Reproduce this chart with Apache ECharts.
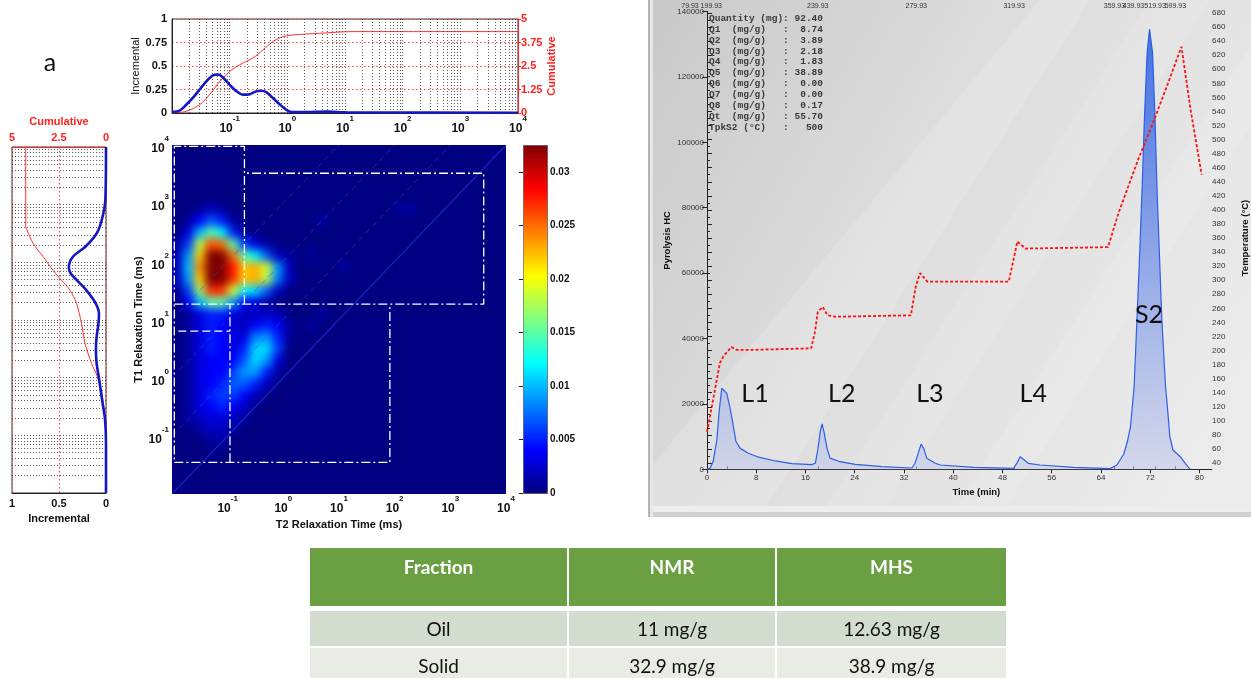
<!DOCTYPE html>
<html>
<head>
<meta charset="utf-8">
<script src="https://cdn.jsdelivr.net/npm/echarts@6/dist/echarts.min.js"></script>
<style>
  html, body { margin: 0; padding: 0; background: #ffffff; }
  #wrap { position: relative; width: 1251px; height: 678px; overflow: hidden; }
  #mapClip { position: absolute; left: 172px; top: 145px; width: 334px; height: 349px; overflow: hidden; background: #000080; }
  #mapField { position: absolute; left: -20px; top: -20px; width: 374px; height: 389px; filter: blur(4px); }
  #main { position: absolute; left: 0; top: 0; width: 1251px; height: 678px; }
</style>
</head>
<body>
<div id="wrap">
  <div id="mapClip"><div id="mapField"></div></div>
  <div id="main"></div>
</div>
<script>
// ---------- NMR: T2 projection (incremental / cumulative) ----------
const t2IncT2 = [0.01, 0.0135, 0.0178, 0.0229, 0.0302, 0.0398, 0.0513, 0.063, 0.0759, 0.1, 0.132, 0.17, 0.224, 0.288, 0.355, 0.437, 0.562, 0.741, 0.955, 1.17, 2.14, 4.79, 10.5, 10000];
const t2Incremental = [0.01, 0.025, 0.09, 0.16, 0.25, 0.34, 0.40, 0.41, 0.38, 0.30, 0.23, 0.195, 0.20, 0.23, 0.237, 0.22, 0.16, 0.09, 0.035, 0.01, 0.01, 0.015, 0.007, 0.003];
const t2CumT2 = [0.01, 0.0178, 0.0302, 0.0447, 0.0676, 0.1, 0.148, 0.251, 0.38, 0.562, 0.832, 1.26, 3.63, 13.8, 52.5, 10000];
const t2Cumulative = [0, 0.09, 0.44, 0.97, 1.68, 2.21, 2.56, 2.92, 3.36, 3.80, 4.06, 4.15, 4.24, 4.33, 4.33, 4.33];

// ---------- NMR: T1 projection ----------
const t1IncT1 = [10000, 1200, 537, 316, 186, 126, 83, 64.6, 49, 33, 19.5, 12.9, 8.7, 5.1, 3.0, 1.78, 1.05, 0.62, 0.36, 0.186, 0.072, 0.01];
const t1Incremental = [0, 0.007, 0.046, 0.10, 0.22, 0.35, 0.395, 0.377, 0.31, 0.21, 0.11, 0.075, 0.08, 0.10, 0.107, 0.10, 0.078, 0.057, 0.036, 0.01, 0, 0];
const t1CumT1 = [10000, 417, 363, 214, 126, 72, 49, 33, 19.5, 8.7, 4.0, 1.78, 1.05, 0.54, 0.214, 0.072, 0.01];
const t1Cumulative = [4.27, 4.27, 4.2, 3.88, 3.35, 2.81, 2.37, 1.92, 1.57, 1.30, 1.12, 0.77, 0.46, 0.23, 0.07, 0, 0];

// ---------- NMR: T1-T2 map, 0.2-decade cells, amplitude in units of 0.001 ----------
const mapCells = 30;            // cells per axis, 10^-2 .. 10^4 ms
const mapRowStart = 4;          // first listed row (T1 ~ 10^-1.2 ms)
const mapRows = [
  [0,0,0,1,1],
  [0,0,1,2,2,1],
  [0,1,2,3,3,2,1],
  [0,1,3,4,5,4,2],
  [0,1,3,5,6,6,4,2],
  [0,1,3,4,5,7,7,5,2],
  [0,1,3,4,4,6,9,9,5,1],
  [0,1,3,4,4,4,7,11,9,3],
  [0,1,3,5,4,3,5,11,11,6],
  [0,1,3,5,4,3,3,8,9,5,1],
  [0,1,3,5,4,3,2,4,5,4,1,0,1],
  [0,1,3,5,5,3,2,2,2,2,0,0,0,1],
  [0,4,10,15,15,9,4,3,1],
  [1,6,17,27,27,19,12,11,7,2],
  [2,9,22,33,33,27,22,23,18,8,2],
  [2,10,24,33,33,28,22,23,19,9,2,0,0,0,0,1],
  [2,9,22,33,33,25,15,12,7,2,1,0,1],
  [1,6,18,26,25,15,6,3,1],
  [0,3,10,15,12,5,1],
  [0,1,4,7,5,1,0,0,0,0,0,0,0,1],
  [0,0,1,2,1,0,0,0,0,0,0,0,0,0,0,0,0,0,0,0,1,1]
];
const mapMax = 0.0325;
const jet = ['#000080', '#0000ff', '#0080ff', '#00ffff', '#80ff80', '#ffff00', '#ff8000', '#ff0000', '#800000'];

// Cut-off regions drawn on the map, [T2 ms, T1 ms]
const regionOutlineA = [[0.2, 18.4], [0.2, 9500], [0.011, 9500], [0.011, 0.035], [82, 0.035], [82, 18.4]];
const regionOutlineB = [[0.011, 18.4], [3980, 18.4], [3980, 3270], [0.2, 3270]];
const regionOutlineC = [[0.11, 0.035], [0.11, 18.4]];
const regionOutlineD = [[0.013, 6.3], [0.11, 6.3]];
const regionNames = ['1', '2', '3', '4', '5'];
const regionLabelT2 = [48, 2240, 0.115, 0.062, 0.062];
const regionLabelT1 = [0.049, 4370, 24.3, 8.3, 0.049];
const t1t2Ratios = [1, 10, 100, 1000];

// ---------- Pyrolysis (MHS) ----------
const fidTime = [0, 0.5, 1.0, 1.6, 2.0, 2.4, 2.7, 3.2, 3.7, 4.3, 4.7, 5.4, 6.7, 8.4, 11.1, 13.8, 17.0, 17.6, 18.0, 18.4, 18.7, 19.0, 19.5, 20.0, 21.4, 24.1, 28.4, 33.3, 33.8, 34.4, 34.8, 35.2, 35.7, 37.1, 37.9, 43.3, 49.8, 50.4, 50.9, 51.4, 52.2, 54.1, 59.6, 65.5, 66.6, 67.7, 68.3, 68.8, 69.4, 69.85, 70.3, 70.7, 71.06, 71.5, 71.9, 72.4, 72.8, 73.1, 73.5, 73.9, 74.5, 74.75, 75.2, 75.7, 76.9, 77.7, 78.5];
const fidSignal = [0, 300, 2350, 9000, 18200, 24800, 25100, 23300, 19200, 13000, 8500, 6400, 4900, 3700, 2550, 1750, 1430, 1840, 5900, 11500, 13900, 11500, 6400, 3400, 2450, 1530, 800, 400, 1840, 5400, 7750, 6400, 3400, 1840, 1320, 610, 300, 2040, 3870, 3060, 1830, 1320, 610, 200, 1320, 4600, 8500, 13000, 25260, 45650, 66050, 86400, 106800, 127200, 134600, 127200, 106800, 86400, 66050, 45650, 25260, 20180, 9970, 5900, 3850, 1830, 0];
const tempTime = [0, 1.3, 2.1, 2.7, 3.5, 4.0, 4.8, 8, 12, 17.0, 17.6, 18.1, 18.9, 19.7, 21, 33.3, 34.1, 34.8, 36.0, 49.3, 50.7, 52.0, 65.5, 67.2, 70.4, 72.6, 75.3, 77.5, 79.0, 80.8];
const tempValue = [84, 144, 182, 192, 200, 205, 201, 201, 202, 203, 225, 255, 262, 250, 248, 250, 291, 310, 298, 298, 355, 345, 347, 395, 471, 518, 580, 632, 542, 450];
const stepTimes = [0, 3.3, 18.0, 34.0, 49.9, 66.2, 69.3, 72.8, 76.1];
const stepLabels = ['79.93', '199.93', '239.93', '279.93', '319.93', '359.93', '439.93', '519.93', '599.93'];
const peakNames = ['L1', 'L2', 'L3', 'L4', 'S2'];
const peakLabelTime = [7.8, 21.9, 36.2, 53.0, 71.8];
const peakLabelHC = [23000, 23000, 23000, 23000, 47200];
const summaryKeys = ['Quantity (mg)', 'Q1  (mg/g)', 'Q2  (mg/g)', 'Q3  (mg/g)', 'Q4  (mg/g)', 'Q5  (mg/g)', 'Q6  (mg/g)', 'Q7  (mg/g)', 'Q8  (mg/g)', 'Qt  (mg/g)', 'TpkS2 (\u00b0C)'];
const summaryValues = ['92.40', '8.74', '3.89', '2.18', '1.83', '38.89', '0.00', '0.00', '0.17', '55.70', '500'];

// ---------- Comparison table ----------
const tableHeader = ['Fraction', 'NMR', 'MHS'];
const tableRows = [['Oil', '11 mg/g', '12.63 mg/g'], ['Solid', '32.9 mg/g', '38.9 mg/g']];

const zip = (a, b) => a.map((v, i) => [v, b[i]]);
const swapZip = (vals, keys) => keys.map((k, i) => [vals[i], k]);

// ================= T1-T2 map field (separate softened layer) =================
const cells = [];
mapRows.forEach((row, r) => row.forEach((v, c) => { if (v > 0) cells.push([c, r + mapRowStart, v * 0.001]); }));
const idx = Array.from({ length: mapCells }, (_, i) => i);
const field = echarts.init(document.getElementById('mapField'), null, { renderer: 'canvas' });
field.setOption({
  animation: false,
  backgroundColor: '#000080',
  grid: { left: 20, top: 20, width: 334, height: 349 },
  xAxis: { type: 'category', data: idx, show: false },
  yAxis: { type: 'category', data: idx, show: false },
  visualMap: { show: false, type: 'continuous', min: 0, max: mapMax, inRange: { color: jet } },
  series: [{ type: 'heatmap', data: cells, itemStyle: { borderWidth: 0 }, emphasis: { disabled: true } }]
});

// ================= Main figure =================
const FONT = '"Liberation Sans", Arial, sans-serif';
const powRich = {
  b: { fontSize: 12, fontWeight: 'bold', color: '#111', lineHeight: 20, verticalAlign: 'bottom', fontFamily: FONT },
  s: { fontSize: 8, fontWeight: 'bold', color: '#111', verticalAlign: 'top', fontFamily: FONT }
};
const powLabel = (v) => {
  const e = Math.round(Math.log10(v));
  return e === -2 ? '' : '{b|10}{s|' + e + '}';
};
const minorGrid = [];
for (let d = -2; d <= 3; d++) for (let k = 1; k <= 9; k++) {
  const v = +(k * Math.pow(10, d)).toPrecision(3);
  if (v > 0.01) minorGrid.push(v);
}
const dotted = { color: '#333', type: [1, 2], width: 0.8 };
const redDotted = { color: '#ff4040', type: [1.5, 2.5], width: 1 };
const boxLine = { color: '#ffffff', width: 1.3, type: [9, 3, 2, 3] };

const regionSeries = [regionOutlineA, regionOutlineB, regionOutlineC].map(pts => ({
  type: 'line', xAxisIndex: 3, yAxisIndex: 3, data: pts, symbol: 'none', silent: true, z: 6,
  lineStyle: boxLine
}));
regionSeries.push({
  type: 'line', xAxisIndex: 3, yAxisIndex: 3, data: regionOutlineD, symbol: 'none', silent: true, z: 6,
  lineStyle: { color: '#ffffff', width: 1.3, type: [8, 4] }
});
const ratioSeries = t1t2Ratios.map(r => ({
  type: 'line', xAxisIndex: 3, yAxisIndex: 3, symbol: 'none', silent: true, z: 5,
  data: [[0.01, 0.01 * r], [10000 / r, 10000]],
  lineStyle: { color: '#2a48ff', width: r === 1 ? 1.2 : 1, opacity: 0.5, type: r === 1 ? 'solid' : [6, 4] }
}));

const summaryText = summaryKeys.map((k, i) => k.padEnd(13) + ':' + summaryValues[i].padStart(6)).join('\n');

// table graphics
const colX = [310, 569, 777], colW = [257, 206, 229];
const tableGraphics = [];
tableHeader.forEach((h, c) => {
  tableGraphics.push({ type: 'rect', shape: { x: colX[c], y: 548, width: colW[c], height: 58 }, style: { fill: '#6a9f42' }, silent: true });
  tableGraphics.push({ type: 'text', x: colX[c] + colW[c] / 2, y: 568, style: { text: h, fill: '#ffffff', font: 'bold 19px Lato, "Open Sans", sans-serif', textAlign: 'center', textVerticalAlign: 'middle' }, silent: true });
});
const rowY = [611, 648], rowH = [35, 32], rowFill = ['#d3ddcf', '#e9ebe5'];
tableRows.forEach((row, r) => row.forEach((txt, c) => {
  tableGraphics.push({ type: 'rect', shape: { x: colX[c], y: rowY[r], width: colW[c], height: rowH[r] }, style: { fill: rowFill[r] }, silent: true });
  tableGraphics.push({ type: 'text', x: colX[c] + colW[c] / 2, y: rowY[r] + 19, style: { text: txt, fill: '#111', font: '19px Lato, "Open Sans", sans-serif', textAlign: 'center', textVerticalAlign: 'middle' }, silent: true });
}));

// pyrolysis panel backdrop
const panelGraphics = [
  { type: 'rect', shape: { x: 648, y: 0, width: 603, height: 517 }, z: -10, silent: true,
    style: { fill: new echarts.graphic.LinearGradient(0, 0, 1, 0.7, [
      { offset: 0, color: '#c8c8c8' }, { offset: 0.45, color: '#dddddd' }, { offset: 1, color: '#ebebeb' }]) } },
  { type: 'polygon', shape: { points: [[648, 470], [648, 517], [760, 517], [1090, 0], [1040, 0]] }, z: -9, silent: true, style: { fill: 'rgba(255,255,255,0.16)' } },
  { type: 'polygon', shape: { points: [[820, 517], [880, 517], [1210, 0], [1150, 0]] }, z: -9, silent: true, style: { fill: 'rgba(255,255,255,0.12)' } },
  { type: 'polygon', shape: { points: [[950, 517], [1000, 517], [1251, 125], [1251, 45]] }, z: -9, silent: true, style: { fill: 'rgba(255,255,255,0.12)' } },
  { type: 'rect', shape: { x: 648, y: 506, width: 603, height: 6 }, z: -8, silent: true, style: { fill: '#ededed' } },
  { type: 'rect', shape: { x: 648, y: 512, width: 603, height: 5 }, z: -8, silent: true, style: { fill: '#d2d2d2' } },
  { type: 'rect', shape: { x: 648, y: 0, width: 2, height: 517 }, z: -8, silent: true, style: { fill: '#b4b4b4' } },
  { type: 'rect', shape: { x: 650, y: 0, width: 3, height: 517 }, z: -8, silent: true, style: { fill: '#e6e6e6' } },
  { type: 'text', x: 709, y: 13, silent: true,
    style: { text: summaryText, font: 'bold 9.5px "Liberation Mono", "DejaVu Sans Mono", monospace', fill: '#3a3a3a', lineHeight: 10.9 } }
];

// oven-step temperatures along the top edge, split over two label rows so none is dropped
const stepLabelFormatter = (v) => {
  const i = stepTimes.indexOf(v);
  if (i < 0) return '';
  return i === 0 ? '{p|' + stepLabels[i] + '}' : (i === 1 ? '{q|' + stepLabels[i] + '}' : stepLabels[i]);
};
const stepRich = { p: { fontSize: 7, color: '#333', padding: [0, 34, 0, 0] }, q: { fontSize: 7, color: '#333', padding: [0, 32, 0, 0] } };
const stepEven = stepTimes.filter((_, i) => i % 2 === 0);
const stepOdd = stepTimes.filter((_, i) => i % 2 === 1);

const main = echarts.init(document.getElementById('main'), null, { renderer: 'canvas' });
main.setOption({
  animation: false,
  backgroundColor: 'transparent',
  textStyle: { fontFamily: FONT },
  graphic: [
    { type: 'text', x: 50, y: 63, silent: true, style: { text: 'a', font: '25px Lato, "Open Sans", sans-serif', fill: '#111', textAlign: 'center', textVerticalAlign: 'middle' } },
    ...panelGraphics,
    ...tableGraphics
  ],
  visualMap: {
    type: 'continuous', seriesIndex: [], min: 0, max: mapMax, inRange: { color: jet },
    left: 523, top: 145, itemWidth: 24, itemHeight: 348, padding: 0, calculable: false,
    borderColor: '#555', borderWidth: 1, hoverLink: false, text: null
  },
  grid: [
    { left: 172, top: 19, width: 346, height: 94, show: true, borderColor: '#333', borderWidth: 1 },
    { left: 12, top: 147, width: 94, height: 346, show: true, borderColor: '#333', borderWidth: 1 },
    { left: 172, top: 145, width: 334, height: 349 },
    { left: 523, top: 145, width: 24, height: 348 },
    { left: 707, top: 11.5, width: 504.7, height: 457.8 },
    { left: 707, top: 13, width: 504.7, height: 450 }
  ],
  xAxis: [
    { gridIndex: 0, type: 'log', logBase: 10, min: 0.01, max: 10000,
      axisLine: { show: true, lineStyle: { color: '#222' } }, axisTick: { show: false }, splitLine: { show: false },
      axisLabel: { formatter: powLabel, rich: powRich, margin: 2 } },
    { gridIndex: 1, type: 'value', min: 0, max: 1, interval: 0.5, inverse: true, position: 'bottom',
      axisLine: { lineStyle: { color: '#222' } }, axisTick: { show: false },
      splitLine: { show: true, lineStyle: redDotted },
      axisLabel: { fontWeight: 'bold', fontSize: 11, color: '#111', margin: 5 },
      name: 'Incremental', nameLocation: 'middle', nameGap: 20, nameTextStyle: { fontWeight: 'bold', fontSize: 11, color: '#111' } },
    { gridIndex: 1, type: 'value', min: 0, max: 5, interval: 2.5, inverse: true, position: 'top',
      axisLine: { lineStyle: { color: '#ff2020' } }, axisTick: { show: false }, splitLine: { show: false },
      axisLabel: { fontWeight: 'bold', fontSize: 11, color: '#ff2020', margin: 4 },
      name: 'Cumulative', nameLocation: 'middle', nameGap: 20, nameTextStyle: { fontWeight: 'bold', fontSize: 11, color: '#ff2020' } },
    { gridIndex: 2, type: 'log', logBase: 10, min: 0.01, max: 10000,
      axisLine: { show: false }, axisTick: { show: false }, splitLine: { show: false },
      axisLabel: { formatter: powLabel, rich: powRich, margin: 1 },
      name: 'T2 Relaxation Time (ms)', nameLocation: 'middle', nameGap: 20,
      nameTextStyle: { fontWeight: 'bold', fontSize: 11, color: '#111' } },
    { gridIndex: 3, type: 'value', min: 0, max: 1, show: false },
    { gridIndex: 4, type: 'value', min: 0, max: 82, interval: 8,
      axisLine: { show: true, lineStyle: { color: '#222' } }, axisTick: { show: true, length: 4, lineStyle: { color: '#222' } },
      splitLine: { show: false }, axisLabel: { fontSize: 8, color: '#333', margin: 4, showMaxLabel: false },
      name: 'Time (min)', nameLocation: 'middle', nameGap: 18,
      nameTextStyle: { fontWeight: 'bold', fontSize: 9.5, color: '#111', padding: [0, 0, 0, 34] } },
    { gridIndex: 4, type: 'value', min: 0, max: 82, position: 'top',
      axisLine: { show: true, lineStyle: { color: '#222' } },
      axisTick: { show: true, length: 3, customValues: stepTimes.slice(1), lineStyle: { color: '#222' } },
      splitLine: { show: false },
      axisLabel: { customValues: stepEven, fontSize: 7, color: '#333', margin: 2, hideOverlap: false,
        formatter: stepLabelFormatter, rich: stepRich } },
    { gridIndex: 5, type: 'value', min: 0, max: 82, show: false },
    { gridIndex: 4, type: 'value', min: 0, max: 82, position: 'top',
      axisLine: { show: false }, axisTick: { show: false }, splitLine: { show: false },
      axisLabel: { customValues: stepOdd, fontSize: 7, color: '#333', margin: 2, hideOverlap: false,
        formatter: stepLabelFormatter, rich: stepRich } }
  ],
  yAxis: [
    { gridIndex: 0, type: 'value', min: 0, max: 1, interval: 0.25,
      axisLine: { show: true, lineStyle: { color: '#222' } }, axisTick: { show: false },
      splitLine: { show: true, lineStyle: redDotted },
      axisLabel: { fontWeight: 'bold', fontSize: 11, color: '#111', margin: 5 },
      name: 'Incremental', nameLocation: 'middle', nameGap: 31, nameRotate: 90, nameTextStyle: { fontSize: 11, color: '#111' } },
    { gridIndex: 0, type: 'value', min: 0, max: 5, interval: 1.25, position: 'right',
      axisLine: { show: true, lineStyle: { color: '#ff2020' } }, axisTick: { show: true, length: 3, lineStyle: { color: '#ff2020' } },
      splitLine: { show: false },
      axisLabel: { fontWeight: 'bold', fontSize: 11, color: '#ff2020', margin: 3 },
      name: 'Cumulative', nameLocation: 'middle', nameGap: 28, nameRotate: 90, nameTextStyle: { fontWeight: 'bold', fontSize: 11, color: '#ff2020' } },
    { gridIndex: 1, type: 'log', logBase: 10, min: 0.01, max: 10000,
      axisLine: { show: false }, axisTick: { show: false }, axisLabel: { show: false }, splitLine: { show: false } },
    { gridIndex: 2, type: 'log', logBase: 10, min: 0.01, max: 10000,
      axisLine: { show: false }, axisTick: { show: false }, splitLine: { show: false },
      axisLabel: { formatter: powLabel, rich: powRich, margin: 3 },
      name: 'T1 Relaxation Time (ms)', nameLocation: 'middle', nameGap: 27, nameRotate: 90,
      nameTextStyle: { fontWeight: 'bold', fontSize: 11, color: '#111' } },
    { gridIndex: 3, type: 'value', min: 0, max: mapMax, interval: 0.005, position: 'right',
      axisLine: { show: false }, axisTick: { show: true, inside: true, length: 4, lineStyle: { color: '#222' } },
      splitLine: { show: false }, axisLabel: { fontSize: 10, fontWeight: 'bold', color: '#111', margin: 3, showMaxLabel: false } },
    { gridIndex: 4, type: 'value', min: 0, max: 140000, interval: 20000,
      axisLine: { show: true, lineStyle: { color: '#222' } }, axisTick: { show: true, length: 5, lineStyle: { color: '#222' } },
      splitLine: { show: false }, axisLabel: { fontSize: 8, color: '#333', margin: 3, formatter: (v) => String(v) },
      name: 'Pyrolysis HC', nameLocation: 'middle', nameGap: 35, nameRotate: 90,
      nameTextStyle: { fontWeight: 'bold', fontSize: 9.5, color: '#111' } },
    { gridIndex: 4, type: 'value', min: 0, max: 140000, position: 'right',
      axisLine: { show: true, lineStyle: { color: '#222' } }, axisTick: { show: false }, axisLabel: { show: false }, splitLine: { show: false } },
    { gridIndex: 5, type: 'value', min: 40, max: 680, interval: 20, position: 'right',
      axisLine: { show: false }, axisTick: { show: true, length: 5, lineStyle: { color: '#222' } },
      minorTick: { show: true, splitNumber: 2, length: 3, lineStyle: { color: '#222' } },
      splitLine: { show: false }, axisLabel: { fontSize: 8, color: '#333', margin: 3 },
      name: 'Temperature (\u00b0C)', nameLocation: 'middle', nameGap: 31, nameRotate: 90,
      nameTextStyle: { fontWeight: 'bold', fontSize: 9.5, color: '#111' } }
  ],
  series: [
    // log grid of the T2 projection
    { type: 'line', xAxisIndex: 0, yAxisIndex: 0, data: [], z: 1, silent: true,
      markLine: { silent: true, symbol: 'none', label: { show: false }, lineStyle: dotted, data: minorGrid.map(v => ({ xAxis: v })) } },
    { type: 'line', xAxisIndex: 0, yAxisIndex: 1, data: zip(t2CumT2, t2Cumulative), smooth: 0.3, symbol: 'none', z: 3,
      lineStyle: { color: '#ff3030', width: 1 } },
    { type: 'line', xAxisIndex: 0, yAxisIndex: 0, data: zip(t2IncT2, t2Incremental), smooth: 0.3, symbol: 'none', z: 4,
      lineStyle: { color: '#1414c8', width: 2.6 } },
    // log grid of the T1 projection
    { type: 'line', xAxisIndex: 1, yAxisIndex: 2, data: [], z: 1, silent: true,
      markLine: { silent: true, symbol: 'none', label: { show: false }, lineStyle: dotted, data: minorGrid.map(v => ({ yAxis: v })) } },
    { type: 'line', xAxisIndex: 2, yAxisIndex: 2, data: swapZip(t1Cumulative, t1CumT1), smooth: 0.3, symbol: 'none', z: 3,
      lineStyle: { color: '#ff3030', width: 1 } },
    { type: 'line', xAxisIndex: 1, yAxisIndex: 2, data: swapZip(t1Incremental, t1IncT1), smooth: 0.3, symbol: 'none', z: 4,
      lineStyle: { color: '#1414c8', width: 2.6 } },
    // map overlays
    ...ratioSeries,
    ...regionSeries,
    { type: 'scatter', xAxisIndex: 3, yAxisIndex: 3, symbolSize: 1, silent: true, z: 7,
      itemStyle: { opacity: 0 },
      data: regionNames.map((n, i) => ({ name: n, value: [regionLabelT2[i], regionLabelT1[i]] })),
      label: { show: true, position: 'inside', formatter: '{b}', color: '#ffffff', fontWeight: 'bold', fontSize: 13 } },
    // pyrolysis FID signal
    { type: 'line', xAxisIndex: 5, yAxisIndex: 5, data: zip(fidTime, fidSignal), symbol: 'none', z: 3,
      lineStyle: { color: '#2d5fe6', width: 1.2 },
      areaStyle: { color: new echarts.graphic.LinearGradient(0, 0, 0, 1, [
        { offset: 0, color: '#0040e0' }, { offset: 0.45, color: '#5a80e6' }, { offset: 1, color: 'rgba(196,202,236,0.85)' }]) },
      markPoint: { symbol: 'circle', symbolSize: 0, silent: true,
        label: { show: true, position: 'inside', formatter: '{b}', fontSize: 25, color: '#111', fontFamily: 'Lato, "Open Sans", sans-serif' },
        data: peakNames.map((n, i) => ({ name: n, coord: [peakLabelTime[i], peakLabelHC[i]] })) } },
    // oven temperature
    { type: 'line', xAxisIndex: 7, yAxisIndex: 7, data: zip(tempTime, tempValue), symbol: 'none', z: 5,
      lineStyle: { color: '#ff1010', width: 1.8, type: [3, 2] } }
  ]
});
</script>
</body>
</html>
